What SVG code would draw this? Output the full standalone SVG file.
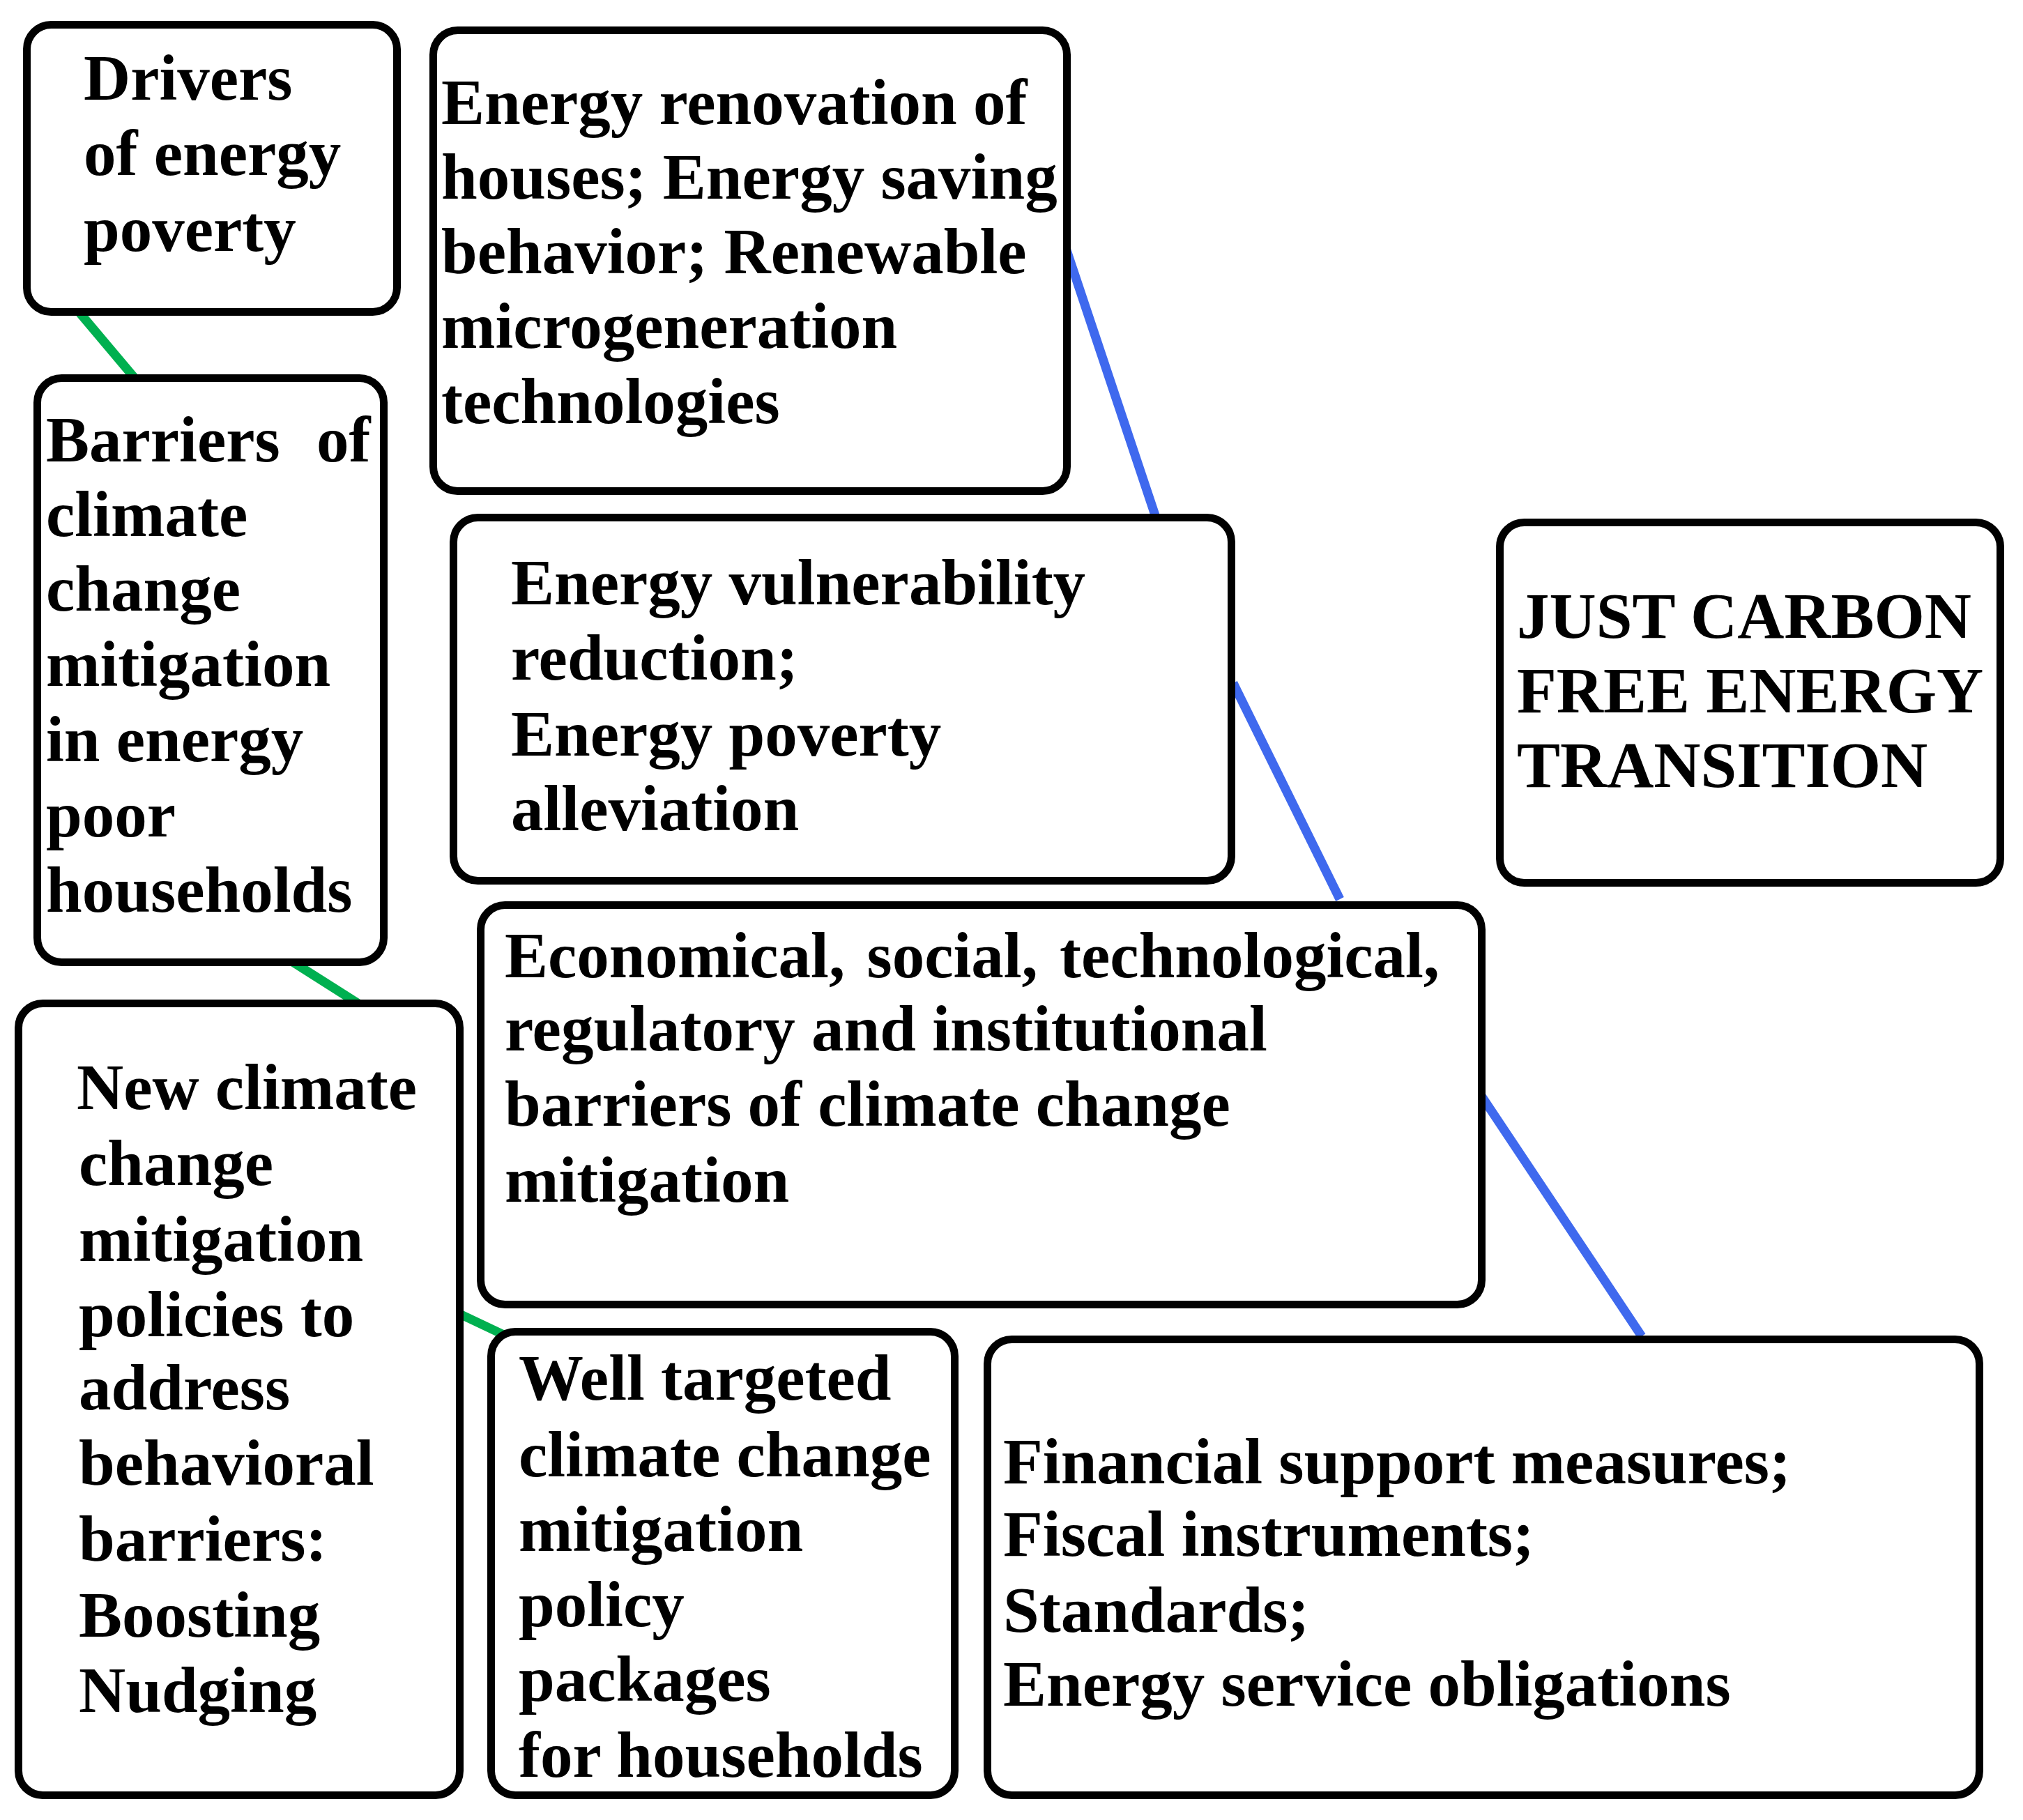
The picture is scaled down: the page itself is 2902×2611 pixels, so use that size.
<svg xmlns="http://www.w3.org/2000/svg" width="2902" height="2611" viewBox="0 0 2902 2611">
<style>
.box{fill:#fff;stroke:#000;stroke-width:11}
.t{font-family:"Liberation Serif","Times New Roman",serif;font-weight:bold;font-size:93px;fill:#000}
.g{stroke:#00b050;stroke-width:13;stroke-linecap:butt}
.b{stroke:#3f69ee;stroke-width:13;stroke-linecap:butt}
</style>
<rect width="2902" height="2611" fill="#fff"/>
<g id="connectors">
<line class="g" x1="112" y1="446" x2="192" y2="541"/>
<line class="g" x1="412" y1="1375" x2="516" y2="1441"/>
<line class="g" x1="651" y1="1881" x2="727" y2="1917"/>
<line class="b" x1="1527" y1="350" x2="1657" y2="739"/>
<line class="b" x1="1769" y1="980" x2="1922" y2="1290"/>
<line class="b" x1="2119" y1="1563" x2="2355" y2="1917"/>
</g>
<g id="drivers">
<rect class="box" x="38.5" y="35.5" width="531" height="412" rx="35"/>
<text class="t"><tspan x="120" y="143">Drivers</tspan><tspan x="120" y="251">of energy</tspan><tspan x="120" y="360">poverty</tspan></text>
</g>
<g id="renovation">
<rect class="box" x="621.5" y="43.5" width="909" height="661" rx="35"/>
<text class="t"><tspan x="633" y="178">Energy renovation of</tspan><tspan x="633" y="285">houses; Energy saving</tspan><tspan x="633" y="392">behavior; Renewable</tspan><tspan x="633" y="499">microgeneration</tspan><tspan x="633" y="607">technologies</tspan></text>
</g>
<g id="barriers">
<rect class="box" x="53.5" y="542.5" width="497" height="838" rx="35"/>
<text class="t"><tspan x="66" y="662" word-spacing="29">Barriers of</tspan><tspan x="66" y="769">climate</tspan><tspan x="66" y="876">change</tspan><tspan x="66" y="984">mitigation</tspan><tspan x="66" y="1092">in energy</tspan><tspan x="66" y="1200">poor</tspan><tspan x="66" y="1308">households</tspan></text>
</g>
<g id="vulnerability">
<rect class="box" x="650.5" y="742.5" width="1116" height="521" rx="35"/>
<text class="t"><tspan x="733" y="867">Energy vulnerability</tspan><tspan x="733" y="975">reduction;</tspan><tspan x="733" y="1084">Energy poverty</tspan><tspan x="733" y="1191">alleviation</tspan></text>
</g>
<g id="just">
<rect class="box" x="2151.5" y="749.5" width="718" height="517" rx="35"/>
<text class="t"><tspan x="2176" y="915">JUST CARBON</tspan><tspan x="2176" y="1022">FREE ENERGY</tspan><tspan x="2176" y="1129">TRANSITION</tspan></text>
</g>
<g id="economical">
<rect class="box" x="689.5" y="1298.5" width="1436" height="573" rx="35"/>
<text class="t"><tspan x="724" y="1402" word-spacing="8">Economical, social, technological,</tspan><tspan x="724" y="1507">regulatory and institutional</tspan><tspan x="724" y="1615">barriers of climate change</tspan><tspan x="724" y="1724">mitigation</tspan></text>
</g>
<g id="newpolicies">
<rect class="box" x="26.5" y="1439.5" width="633" height="1136" rx="35"/>
<text class="t"><tspan x="110" y="1591">New climate</tspan><tspan x="113" y="1700">change</tspan><tspan x="113" y="1809">mitigation</tspan><tspan x="113" y="1917">policies to</tspan><tspan x="113" y="2022">address</tspan><tspan x="113" y="2130">behavioral</tspan><tspan x="113" y="2239">barriers:</tspan><tspan x="113" y="2348">Boosting</tspan><tspan x="113" y="2456">Nudging</tspan></text>
</g>
<g id="welltargeted">
<rect class="box" x="704.5" y="1910.5" width="665" height="665" rx="35"/>
<text class="t"><tspan x="744" y="2008">Well targeted</tspan><tspan x="744" y="2118">climate change</tspan><tspan x="744" y="2225">mitigation</tspan><tspan x="744" y="2333">policy</tspan><tspan x="744" y="2440">packages</tspan><tspan x="744" y="2549">for households</tspan></text>
</g>
<g id="financial">
<rect class="box" x="1416.5" y="1921.5" width="1423" height="654" rx="35"/>
<text class="t"><tspan x="1439" y="2128">Financial support measures;</tspan><tspan x="1439" y="2232">Fiscal instruments;</tspan><tspan x="1439" y="2341">Standards;</tspan><tspan x="1439" y="2447">Energy service obligations</tspan></text>
</g>
</svg>
